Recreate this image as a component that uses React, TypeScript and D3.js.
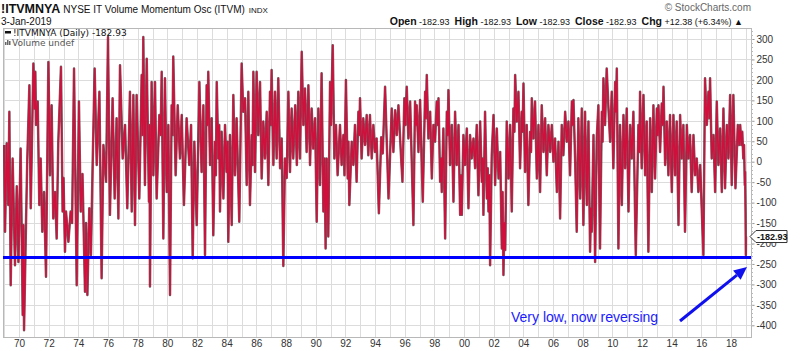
import React, { useEffect, useRef } from 'react';
import * as d3 from 'd3';

// swing points: [decimal year, oscillator value]
const osc1969to1979: [number, number][] = [
  [1969.0, 41], [1969.06, -171], [1969.17, 45], [1969.28, -106], [1969.35, 122], [1969.44, -302],
  [1969.57, 8], [1969.73, -253], [1969.85, -60], [1969.96, -245], [1970.11, 32], [1970.25, -375],
  [1970.29, -155], [1970.34, -412], [1970.47, -155], [1970.56, 8], [1970.7, 187], [1970.79, -114],
  [1970.97, 240], [1971.05, 130], [1971.1, 220], [1971.15, 90], [1971.26, 147], [1971.37, -106],
  [1971.46, 8], [1971.57, -171], [1971.69, -74], [1971.82, -281], [1971.98, 244], [1972.09, -33],
  [1972.2, 138], [1972.31, -139], [1972.43, -74], [1972.54, -188], [1972.65, 49], [1972.83, 232],
  [1972.94, -122], [1973.0, -40], [1973.1, -220], [1973.17, -122], [1973.33, -196], [1973.48, -122],
  [1973.58, -150], [1973.71, 228], [1973.89, -302], [1974.04, 147], [1974.16, -122], [1974.28, -30],
  [1974.45, -318], [1974.52, -150], [1974.61, -326], [1974.74, -114], [1974.85, -228], [1974.95, -33],
  [1975.1, 228], [1975.24, -8], [1975.42, 171], [1975.57, -285], [1975.69, 41], [1975.87, -49],
  [1976.0, 305], [1976.13, -130], [1976.31, 155], [1976.45, -90], [1976.58, 106], [1976.7, -139],
  [1976.81, 236], [1976.99, 8], [1977.15, 90], [1977.3, -114], [1977.48, 171], [1977.6, -122],
  [1977.71, 163], [1977.82, -155], [1977.93, 163], [1978.11, -90], [1978.27, 212], [1978.33, 65],
  [1978.38, 305], [1978.49, -57], [1978.61, 252], [1978.76, -98], [1978.8, 90], [1978.83, -305],
  [1978.94, 195], [1979.06, -33], [1979.17, 195], [1979.28, -90], [1979.46, 114], [1979.55, 65],
  [1979.62, 220], [1979.73, -188], [1979.84, 204], [1979.96, -74],
];

const osc1980s: [number, number][] = [
  [1980.07, 90], [1980.18, -326], [1980.29, 138], [1980.35, 65], [1980.4, 257], [1980.56, -33],
  [1980.7, 138], [1980.85, 8], [1980.97, 114], [1981.12, -106], [1981.3, 106], [1981.48, -8],
  [1981.6, 90], [1981.71, -236], [1981.82, 49], [1981.98, -155], [1982.16, 195], [1982.31, -25],
  [1982.43, 138], [1982.54, -228], [1982.65, 187], [1982.71, 90], [1982.76, 220], [1982.88, -8],
  [1982.99, 106], [1983.1, -180], [1983.21, 49], [1983.27, -33], [1983.33, 195], [1983.44, 8],
  [1983.5, 90], [1983.55, -122], [1983.66, 73], [1983.78, -90], [1983.89, 90], [1984.0, -25],
  [1984.06, 49], [1984.11, -196], [1984.22, 65], [1984.34, -155], [1984.45, 163], [1984.56, -33],
  [1984.67, 106], [1984.85, -147], [1985.01, 240], [1985.12, 122], [1985.24, 155], [1985.35, -57],
  [1985.46, 171], [1985.57, -106], [1985.69, 65], [1985.74, -8], [1985.8, 220], [1985.91, -25],
  [1986.02, 220], [1986.13, 65], [1986.25, 195], [1986.36, -41], [1986.47, 98], [1986.58, 8],
  [1986.7, 122], [1986.81, -57], [1986.92, 171], [1986.97, 90], [1987.03, 224], [1987.15, -8],
  [1987.26, 171], [1987.37, 8], [1987.48, 204], [1987.6, -16], [1987.71, 57], [1987.82, -255],
  [1987.93, 8], [1988.05, -40], [1988.16, 171], [1988.27, -25], [1988.38, 130], [1988.49, 8],
  [1988.62, 138], [1988.73, -8], [1988.83, 171], [1988.94, 8], [1989.06, 269], [1989.17, 90],
  [1989.28, 179], [1989.39, 24], [1989.51, 187], [1989.62, -8], [1989.73, 130], [1989.84, 32],
  [1989.96, 106],
];

const osc1990s: [number, number][] = [
  [1990.07, -147], [1990.18, 130], [1990.29, -57], [1990.4, 216], [1990.52, -122], [1990.6, 8],
  [1990.67, -212], [1990.74, 8], [1990.85, -183], [1990.97, 195], [1991.03, 90], [1991.15, 285],
  [1991.26, 8], [1991.37, 90], [1991.48, -33], [1991.64, 90], [1991.75, -8], [1991.87, 65],
  [1991.94, -33], [1992.04, 200], [1992.16, -41], [1992.21, 49], [1992.27, -106], [1992.43, 49],
  [1992.54, -8], [1992.65, 90], [1992.76, -49], [1992.88, 122], [1992.94, 65], [1992.99, 155],
  [1993.1, 8], [1993.21, 106], [1993.33, 41], [1993.44, 114], [1993.55, 16], [1993.66, 114],
  [1993.78, 8], [1993.89, 90], [1994.0, 24], [1994.11, 57], [1994.26, -126], [1994.42, 60],
  [1994.52, 20], [1994.68, 183], [1994.91, -90], [1995.13, 130], [1995.24, 24], [1995.36, 126],
  [1995.47, 65], [1995.58, 138], [1995.74, 24], [1995.85, -49], [1995.98, 155], [1996.05, 90],
  [1996.14, 183], [1996.25, 57], [1996.37, 147], [1996.59, -155], [1996.7, 147], [1996.76, 90],
  [1996.81, 138], [1996.93, 24], [1997.04, 151], [1997.22, -98], [1997.38, 171], [1997.43, 106],
  [1997.49, 212], [1997.6, 57], [1997.72, 122], [1997.83, -41], [1997.94, 90], [1998.05, 49],
  [1998.16, 147], [1998.23, 90], [1998.28, 155], [1998.39, -49], [1998.45, 8], [1998.5, -74],
  [1998.61, 81], [1998.73, -188], [1998.84, 122], [1998.9, 65], [1998.95, 175], [1999.06, -8],
  [1999.18, 90], [1999.29, -98], [1999.4, 122], [1999.51, -8], [1999.63, 90], [1999.74, -130],
  [1999.8, -33], [1999.85, -130], [1999.96, 65],
];

const osc2000s: [number, number][] = [
  [2000.07, -8], [2000.19, 81], [2000.3, -114], [2000.41, 65], [2000.52, 8], [2000.64, 57],
  [2000.75, -16], [2000.86, 90], [2000.97, -82], [2001.09, 98], [2001.2, -49], [2001.26, 8],
  [2001.31, -130], [2001.42, 122], [2001.54, -90], [2001.6, -16], [2001.65, -122], [2001.71, -33],
  [2001.76, -253], [2001.87, 16], [2001.99, 114], [2002.1, -57], [2002.21, 81], [2002.33, -41],
  [2002.44, 24], [2002.55, -212], [2002.6, -74], [2002.66, -277], [2002.72, -150], [2002.78, -216],
  [2002.88, 98], [2003.0, -41], [2003.11, 90], [2003.22, -122], [2003.33, 130], [2003.4, 73],
  [2003.45, 212], [2003.56, 98], [2003.67, 171], [2003.78, -16], [2003.89, 122], [2003.95, 73],
  [2004.01, 191], [2004.12, -25], [2004.23, 90], [2004.34, -106], [2004.46, 73], [2004.52, 24],
  [2004.57, 155], [2004.68, 57], [2004.79, 147], [2004.91, -41], [2005.02, 90], [2005.13, -74],
  [2005.24, 138], [2005.36, 24], [2005.47, 106], [2005.58, -33], [2005.69, 90], [2005.81, 24],
  [2005.92, 90], [2006.03, 0], [2006.14, 57], [2006.26, -74], [2006.37, 49], [2006.48, -139],
  [2006.59, 90], [2006.7, 16], [2006.82, 122], [2006.93, 49], [2007.04, 98], [2007.15, -33],
  [2007.27, 147], [2007.33, 90], [2007.38, 151], [2007.49, 8], [2007.6, -171], [2007.71, 106],
  [2007.83, -90], [2007.94, 130], [2008.05, -155], [2008.16, 122], [2008.28, -106], [2008.39, 98],
  [2008.5, -220], [2008.56, -114], [2008.61, -171], [2008.73, 65], [2008.84, -245], [2008.95, 57],
  [2009.06, 138], [2009.17, -212], [2009.29, 122], [2009.34, 49], [2009.4, 204], [2009.51, 90],
  [2009.62, 228], [2009.74, 130], [2009.85, 49], [2009.96, 171],
];

const osc2010s: [number, number][] = [
  [2010.07, -16], [2010.19, 195], [2010.25, 122], [2010.3, 228], [2010.41, -212], [2010.52, 90],
  [2010.64, -106], [2010.75, 114], [2010.86, -16], [2010.97, 130], [2011.09, -122], [2011.2, 90],
  [2011.31, 8], [2011.42, 122], [2011.58, -228], [2011.76, 90], [2011.82, 24], [2011.87, 171],
  [2011.98, -16], [2012.1, 163], [2012.21, -33], [2012.32, 98], [2012.43, -220], [2012.55, 106],
  [2012.66, -74], [2012.77, 138], [2012.88, -41], [2013.0, 130], [2013.05, 65], [2013.11, 138],
  [2013.22, 24], [2013.33, 142], [2013.4, 90], [2013.45, 183], [2013.56, -8], [2013.67, 98],
  [2013.78, -33], [2013.89, 114], [2014.01, -74], [2014.12, 114], [2014.23, -33], [2014.34, 98],
  [2014.46, -155], [2014.57, 114], [2014.68, 8], [2014.79, 90], [2014.9, -171], [2015.02, 90],
  [2015.13, 8], [2015.24, 65], [2015.35, -74], [2015.47, 65], [2015.58, -33], [2015.69, 8],
  [2015.8, -74], [2015.92, -8], [2016.14, -228], [2016.25, 204], [2016.37, 90], [2016.48, 171],
  [2016.54, 106], [2016.59, 204], [2016.7, 8], [2016.82, 65], [2016.93, -74], [2017.04, 147],
  [2017.15, -8], [2017.27, 81], [2017.38, -74], [2017.49, 130], [2017.6, -65], [2017.72, 90],
  [2017.83, 8], [2017.94, 163], [2018.05, -57], [2018.16, 163], [2018.3, -65], [2018.46, 90],
  [2018.55, 41], [2018.62, 90], [2018.7, 41], [2018.76, 73], [2018.83, 8], [2018.88, 41],
  [2018.93, -57], [2018.95, -25], [2018.98, -122], [2019.0, -228], [2019.01, -182.93],
];

const yTicks = [300, 250, 200, 150, 100, 50, 0, -50, -100, -150, -200, -250, -300, -350, -400];
const labelYears = [1970, 1972, 1974, 1976, 1978, 1980, 1982, 1984, 1986, 1988, 1990, 1992, 1994,
  1996, 1998, 2000, 2002, 2004, 2006, 2008, 2010, 2012, 2014, 2016, 2018];
const yearLabels = ['70', '72', '74', '76', '78', '80', '82', '84', '86', '88', '90', '92', '94',
  '96', '98', '00', '02', '04', '06', '08', '10', '12', '14', '16', '18'];
const gridYears = [1969, 1970, 1971, 1972, 1973, 1974, 1975, 1976, 1977, 1978, 1979, 1980, 1981,
  1982, 1983, 1984, 1985, 1986, 1987, 1988, 1989, 1990, 1991, 1992, 1993, 1994, 1995, 1996, 1997,
  1998, 1999, 2000, 2001, 2002, 2003, 2004, 2005, 2006, 2007, 2008, 2009, 2010, 2011, 2012, 2013,
  2014, 2015, 2016, 2017, 2018, 2019];
const supportLevel = -234;
const lastValue = -182.93;

const W = 800;
const H = 351;
const plot = { left: 3, right: 751, top: 28, bottom: 337 };
const sans = 'Arial, "Liberation Sans", sans-serif';

const App = () => {
  const ref = useRef<SVGSVGElement>(null);

  useEffect(() => {
    if (!ref.current) return;
    const svg = d3.select(ref.current);
    svg.selectAll('*').remove();

    const x = d3.scaleLinear().domain([1970, 2018]).range([19, 731]);
    const y = d3.scaleLinear().domain([-400, 300]).range([325.3, 39]);
    const data = [...osc1969to1979, ...osc1980s, ...osc1990s, ...osc2000s, ...osc2010s];

    svg.append('rect').attr('width', W).attr('height', H).attr('fill', '#fff');

    svg.append('defs').append('clipPath').attr('id', 'plotClip')
      .append('rect')
      .attr('x', plot.left).attr('y', plot.top)
      .attr('width', plot.right - plot.left).attr('height', plot.bottom - plot.top);

    // grid
    const grid = svg.append('g').attr('stroke', '#dcdcdc').attr('stroke-width', 1);
    gridYears.forEach(yr => {
      const gx = Math.round(x(yr)) + 0.5;
      if (gx <= plot.left || gx >= plot.right) return;
      grid.append('line').attr('x1', gx).attr('x2', gx).attr('y1', plot.top).attr('y2', plot.bottom);
    });
    yTicks.forEach(v => {
      const gy = Math.round(y(v)) + 0.5;
      grid.append('line').attr('x1', plot.left).attr('x2', plot.right).attr('y1', gy).attr('y2', gy);
    });

    // frame
    svg.append('rect')
      .attr('x', plot.left + 0.5).attr('y', plot.top + 0.5)
      .attr('width', plot.right - plot.left).attr('height', plot.bottom - plot.top)
      .attr('fill', 'none').attr('stroke', '#b8b8b8');

    // oscillator line: dark under-stroke with the crimson line on top
    const line = d3.line<[number, number]>().x(d => x(d[0])).y(d => y(d[1]));
    const g = svg.append('g').attr('clip-path', 'url(#plotClip)');
    g.append('path').datum(data).attr('d', line)
      .attr('fill', 'none').attr('stroke', '#1a1a1a').attr('stroke-width', 2.5)
      .attr('stroke-opacity', 0.65).attr('stroke-linejoin', 'round');
    g.append('path').datum(data).attr('d', line)
      .attr('fill', 'none').attr('stroke', '#d0103c').attr('stroke-width', 1.5)
      .attr('stroke-linejoin', 'round');

    // support line
    svg.append('line')
      .attr('x1', plot.left).attr('x2', plot.right)
      .attr('y1', y(supportLevel)).attr('y2', y(supportLevel))
      .attr('stroke', '#0000ff').attr('stroke-width', 3);

    // right axis
    const yAxis = d3.axisRight(y).tickValues(yTicks).tickSize(3).tickPadding(2)
      .tickFormat(d => String(d));
    const ya = svg.append('g').attr('transform', `translate(${plot.right + 0.5},0)`).call(yAxis);
    ya.select('.domain').remove();
    ya.selectAll('line').attr('stroke', '#999');
    ya.selectAll('text').attr('font-family', sans).attr('font-size', 10).attr('fill', '#333');
    d3.range(-400, 330, 10).forEach(v => {
      svg.append('line')
        .attr('x1', plot.right).attr('x2', plot.right + 2)
        .attr('y1', Math.round(y(v)) + 0.5).attr('y2', Math.round(y(v)) + 0.5)
        .attr('stroke', '#bbb');
    });

    // bottom axis
    const xAxis = d3.axisBottom(x).tickValues(labelYears).tickSize(0).tickPadding(3)
      .tickFormat((d, i) => yearLabels[i]);
    const xa = svg.append('g').attr('transform', `translate(0,${plot.bottom})`).call(xAxis);
    xa.select('.domain').remove();
    xa.selectAll('text').attr('font-family', sans).attr('font-size', 10).attr('fill', '#333');

    // last value tag
    const ly = y(lastValue);
    svg.append('path')
      .attr('d', `M${plot.right - 1},${ly} L${plot.right + 5},${ly - 6} L${plot.right + 36},${ly - 6} L${plot.right + 36},${ly + 6} L${plot.right + 5},${ly + 6} Z`)
      .attr('fill', '#fff').attr('stroke', '#333');
    svg.append('text').attr('x', plot.right + 6).attr('y', ly + 3.5)
      .attr('font-family', sans).attr('font-size', 9).attr('font-weight', 'bold').attr('fill', '#111')
      .text(String(lastValue));

    // annotation
    const ax1 = 680, ay1 = 321, ax2 = 747, ay2 = 267;
    const ang = Math.atan2(ay2 - ay1, ax2 - ax1);
    const hl = 13, hw = 6;
    const bx = ax2 - hl * Math.cos(ang), by = ay2 - hl * Math.sin(ang);
    svg.append('line').attr('x1', ax1).attr('y1', ay1).attr('x2', bx).attr('y2', by)
      .attr('stroke', '#1010ee').attr('stroke-width', 3);
    svg.append('path')
      .attr('d', `M${ax2},${ay2} L${bx + hw * Math.sin(ang)},${by - hw * Math.cos(ang)} L${bx - hw * Math.sin(ang)},${by + hw * Math.cos(ang)} Z`)
      .attr('fill', '#1010ee');
    svg.append('text').attr('x', 511).attr('y', 322)
      .attr('font-family', sans).attr('font-size', 14).attr('fill', '#1a1aff')
      .text('Very low, now reversing');

    // legend
    svg.append('rect').attr('x', 5).attr('y', 31).attr('width', 6).attr('height', 2.5).attr('fill', '#111');
    svg.append('text').attr('x', 13).attr('y', 35.5)
      .attr('font-family', '"DejaVu Sans", Verdana, sans-serif').attr('font-size', 9).attr('fill', '#111')
      .text('!ITVMNYA (Daily) -182.93');
    const icon = svg.append('g').attr('fill', '#666');
    [[5, 42, 3], [7, 40, 5], [9, 41, 4]].forEach(([bx0, by0, bh]) => {
      icon.append('rect').attr('x', bx0).attr('y', by0).attr('width', 1.5).attr('height', bh);
    });
    svg.append('text').attr('x', 12).attr('y', 45.5)
      .attr('font-family', '"DejaVu Sans", Verdana, sans-serif').attr('font-size', 9).attr('fill', '#555')
      .text('Volume undef');

    // header
    const h1 = svg.append('text').attr('x', 1).attr('y', 13).attr('font-family', sans).attr('fill', '#111');
    h1.append('tspan').attr('font-size', 12.5).attr('font-weight', 'bold').text('!ITVMNYA');
    h1.append('tspan').attr('font-size', 10).attr('dx', 3).text('NYSE IT Volume Momentum Osc (ITVM)');
    h1.append('tspan').attr('font-size', 8).attr('dx', 4).text('INDX');
    svg.append('text').attr('x', 1).attr('y', 25).attr('font-family', sans).attr('font-size', 10)
      .attr('fill', '#111').text('3-Jan-2019');
    svg.append('text').attr('x', 751).attr('y', 11).attr('text-anchor', 'end')
      .attr('font-family', sans).attr('font-size', 10).attr('fill', '#666').text('\u00a9 StockCharts.com');

    const q = svg.append('text').attr('x', 743).attr('y', 25).attr('text-anchor', 'end')
      .attr('font-family', sans).attr('fill', '#111');
    const parts: [string, boolean][] = [
      ['Open', true], [' -182.93  ', false], ['High', true], [' -182.93  ', false],
      ['Low', true], [' -182.93  ', false], ['Close', true], [' -182.93  ', false],
      ['Chg', true], [' +12.38 (+6.34%) \u25b2', false],
    ];
    parts.forEach(([t, b]) => {
      q.append('tspan').attr('font-size', b ? 10.5 : 9).attr('font-weight', b ? 'bold' : 'normal')
        .attr('xml:space', 'preserve').text(t);
    });
  }, []);

  return (
    <svg ref={ref} width={W} height={H}
      style={{ position: 'absolute', left: 0, top: 0, display: 'block' }} />
  );
};

export default App;
